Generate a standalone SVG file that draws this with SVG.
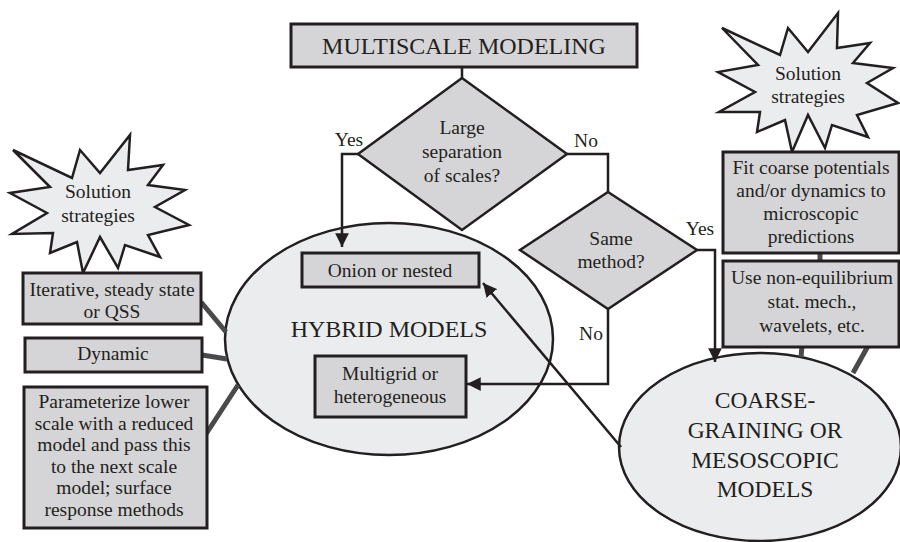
<svg xmlns="http://www.w3.org/2000/svg" width="900" height="542" viewBox="0 0 900 542">
  <defs>
    <marker id="arrow" viewBox="0 0 10 10" refX="10" refY="5" markerWidth="5.5" markerHeight="5.5" orient="auto" markerUnits="strokeWidth">
      <path d="M0,0 L10,5 L0,10 z" fill="#231f20"/>
    </marker>
    <style>
      text { font-family: "Liberation Serif", "Times New Roman", serif; fill: #231f20; text-anchor: middle; }
      .box { fill: #d5d5d7; stroke: #231f20; stroke-width: 3; }
      .diamond { fill: #d5d5d7; stroke: #231f20; stroke-width: 2.5; }
      .oval { fill: #ebecee; stroke: #231f20; stroke-width: 2.5; }
      .burst { fill: #ebecee; stroke: #231f20; stroke-width: 2.5; stroke-linejoin: miter; }
      .flow { fill: none; stroke: #231f20; stroke-width: 2.5; }
      .tie { fill: none; stroke: #4a4a4c; stroke-width: 5; }
      .sm { font-size: 19.5px; }
      .lg { font-size: 24px; }
      .md { font-size: 23.5px; }
    </style>
  </defs>

  <!-- big ovals sit underneath everything else -->
  <g id="hybrid-models">
    <ellipse class="oval" cx="389" cy="339" rx="164" ry="116"/>
    <text class="lg" x="389" y="337">HYBRID MODELS</text>
  </g>

  <g id="coarse-graining">
    <ellipse class="oval" cx="760" cy="447" rx="141" ry="94"/>
    <text class="md" x="765" y="408">COARSE-</text>
    <text class="md" x="765" y="438">GRAINING OR</text>
    <text class="md" x="765" y="468">MESOSCOPIC</text>
    <text class="md" x="765" y="497">MODELS</text>
  </g>

  <!-- connectors -->
  <g id="connectors">
    <!-- title to first decision -->
    <line class="flow" x1="462" y1="67" x2="462" y2="78"/>
    <!-- Yes: large separation -> onion -->
    <polyline class="flow" points="358,154 342,154 342,247" marker-end="url(#arrow)"/>
    <!-- No: large separation -> same method -->
    <polyline class="flow" points="567,154 608,154 608,192"/>
    <!-- Yes: same method -> coarse graining -->
    <polyline class="flow" points="697,250 715,250 715,362" marker-end="url(#arrow)"/>
    <!-- No: same method -> multigrid -->
    <polyline class="flow" points="608,309 608,384 467,384" marker-end="url(#arrow)"/>
    <!-- coarse graining -> onion -->
    <line class="flow" x1="621" y1="447" x2="483" y2="283" marker-end="url(#arrow)"/>

    <!-- strategy ties, left -->
    <line class="tie" x1="201" y1="302" x2="226" y2="332"/>
    <line class="tie" x1="202" y1="355" x2="227" y2="359"/>
    <line class="tie" x1="206" y1="434" x2="238" y2="385"/>
    <!-- strategy ties, right -->
    <line class="tie" x1="820" y1="252" x2="820" y2="262"/>
    <line class="tie" x1="802" y1="346" x2="801" y2="357"/>
    <line class="tie" x1="868" y1="346" x2="853" y2="373"/>
  </g>

  <g id="title">
    <rect class="box" x="291" y="24" width="346" height="43"/>
    <text class="lg" x="464" y="54">MULTISCALE MODELING</text>
  </g>

  <g id="decision-separation">
    <polygon class="diamond" points="462,78 567,154 462,230 358,154"/>
    <text class="sm" x="462" y="134">Large</text>
    <text class="sm" x="462" y="158">separation</text>
    <text class="sm" x="462" y="182">of scales?</text>
  </g>

  <g id="decision-method">
    <polygon class="diamond" points="608,192 697,250 608,309 520,250"/>
    <text class="sm" x="611" y="245">Same</text>
    <text class="sm" x="611" y="268">method?</text>
  </g>

  <g id="labels">
    <text class="sm" x="349" y="146">Yes</text>
    <text class="sm" x="586" y="147">No</text>
    <text class="sm" x="700" y="235">Yes</text>
    <text class="sm" x="591" y="340">No</text>
  </g>

  <g id="onion">
    <rect class="box" x="302" y="253" width="177" height="34"/>
    <text class="sm" x="390" y="277">Onion or nested</text>
  </g>

  <g id="multigrid">
    <rect class="box" x="315" y="356" width="151" height="61"/>
    <text class="sm" x="390" y="380">Multigrid or</text>
    <text class="sm" x="390" y="403">heterogeneous</text>
  </g>

  <g id="strategies-left">
    <polygon class="burst" points="13,150 72,178 80,150 100,173 130,135 128,170 163,165 148,185 185,190 155,207 189,225 148,235 160,257 125,245 118,268 100,237 83,273 77,242 50,253 53,233 12,234 47,213 10,193 50,187"/>
    <text class="sm" x="98" y="198">Solution</text>
    <text class="sm" x="98" y="222">strategies</text>
  </g>

  <g id="strategies-right">
    <polygon class="burst" points="722,28 780,55 788,28 808,52 838,13 837,48 870,43 853,63 893,68 867,83 898,103 857,115 868,137 832,125 825,148 808,115 792,152 785,120 757,132 760,112 719,112 755,92 718,72 758,65"/>
    <text class="sm" x="808" y="80">Solution</text>
    <text class="sm" x="808" y="103">strategies</text>
  </g>

  <g id="iterative">
    <rect class="box" x="23" y="273" width="178" height="51"/>
    <text class="sm" x="112" y="296">Iterative, steady state</text>
    <text class="sm" x="112" y="318">or QSS</text>
  </g>

  <g id="dynamic">
    <rect class="box" x="25" y="338" width="177" height="34"/>
    <text class="sm" x="113" y="360">Dynamic</text>
  </g>

  <g id="parameterize">
    <rect class="box" x="24" y="387" width="183" height="141"/>
    <text class="sm" x="114" y="408">Parameterize lower</text>
    <text class="sm" x="114" y="430">scale with a reduced</text>
    <text class="sm" x="114" y="451">model and pass this</text>
    <text class="sm" x="114" y="473">to the next scale</text>
    <text class="sm" x="114" y="494">model; surface</text>
    <text class="sm" x="114" y="516">response methods</text>
  </g>

  <g id="fit-coarse">
    <rect class="box" x="723" y="152" width="176" height="101"/>
    <text class="sm" x="811" y="174">Fit coarse potentials</text>
    <text class="sm" x="811" y="197">and/or dynamics to</text>
    <text class="sm" x="811" y="220">microscopic</text>
    <text class="sm" x="811" y="243">predictions</text>
  </g>

  <g id="non-equilibrium">
    <rect class="box" x="723" y="261" width="176" height="86"/>
    <text class="sm" x="812" y="284">Use non-equilibrium</text>
    <text class="sm" x="812" y="308">stat. mech.,</text>
    <text class="sm" x="812" y="332">wavelets, etc.</text>
  </g>
</svg>
